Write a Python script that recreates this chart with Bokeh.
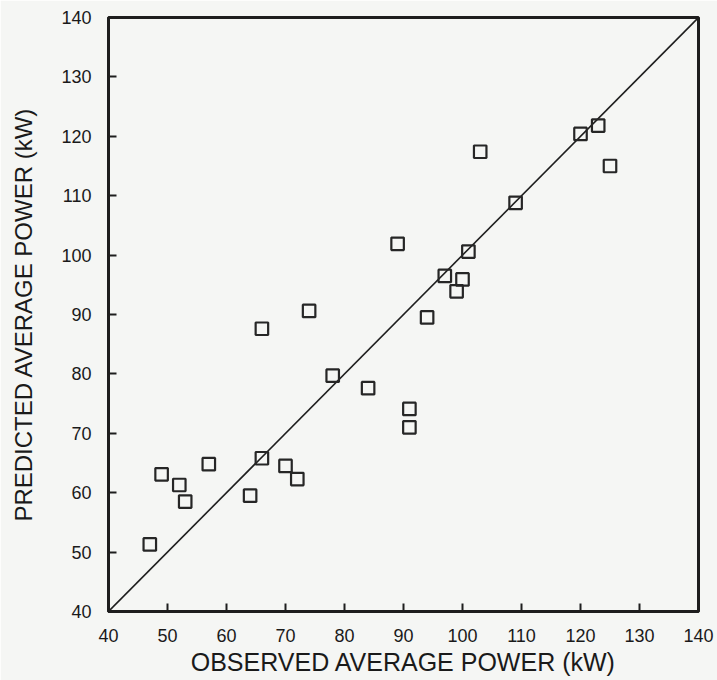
from bokeh.plotting import figure
from bokeh.embed import file_html
from bokeh.resources import INLINE
from bokeh.models import Range1d, FixedTicker

observed = [47, 49, 52, 53, 57, 64, 66, 70, 72, 91, 91, 109, 89, 101, 97, 100, 99, 94, 74, 66, 78, 84, 103, 120, 123, 125]
predicted = [51.3, 63.1, 61.3, 58.5, 64.8, 59.5, 65.8, 64.5, 62.3, 74.1, 71.0, 108.8, 101.9, 100.6, 96.5, 95.9, 93.9, 89.5, 90.6, 87.6, 79.7, 77.6, 117.4, 120.4, 121.8, 115.0]
line_x = [40, 140]
line_y = [40, 140]
ticks = [40, 50, 60, 70, 80, 90, 100, 110, 120, 130, 140]

p = figure(width=717, height=680, output_backend="svg", toolbar_location=None,
           x_range=Range1d(40, 140), y_range=Range1d(40, 140),
           min_border_left=108, min_border_right=19, min_border_top=17, min_border_bottom=69)
p.background_fill_color = "#f5f6f4"
p.border_fill_color = "#f5f6f4"
p.outline_line_color = "#1e1e1e"
p.outline_line_width = 3
p.grid.visible = False

for ax in (p.xaxis[0], p.yaxis[0]):
    ax.ticker = FixedTicker(ticks=ticks)
    ax.major_tick_in = 8
    ax.major_tick_out = 0
    ax.minor_tick_in = 0
    ax.minor_tick_out = 0
    ax.axis_line_width = 3
    ax.axis_line_color = "#1e1e1e"
    ax.major_tick_line_width = 2
    ax.major_tick_line_color = "#1e1e1e"
    ax.major_label_text_font = "Liberation Sans"
    ax.major_label_text_font_size = "18px"
    ax.major_label_text_color = "#1a1a1a"
    ax.axis_label_text_font = "Liberation Sans"
    ax.axis_label_text_font_style = "normal"
    ax.axis_label_text_color = "#1a1a1a"

p.xaxis.axis_label = "OBSERVED AVERAGE POWER (kW)"
p.yaxis.axis_label = "PREDICTED AVERAGE POWER (kW)"
p.xaxis.axis_label_text_font_size = "25px"
p.yaxis.axis_label_text_font_size = "24px"
p.xaxis.major_label_standoff = 17
p.yaxis.major_label_standoff = 17
p.xaxis.axis_label_standoff = 3
p.yaxis.axis_label_standoff = 21

p.line(line_x, line_y, line_color="#1e1e1e", line_width=1.6)
p.scatter(observed, predicted, marker="square", size=12.5, fill_color=None,
          line_color="#262626", line_width=2.2)

open("out.html", "w").write(file_html(p, INLINE))
